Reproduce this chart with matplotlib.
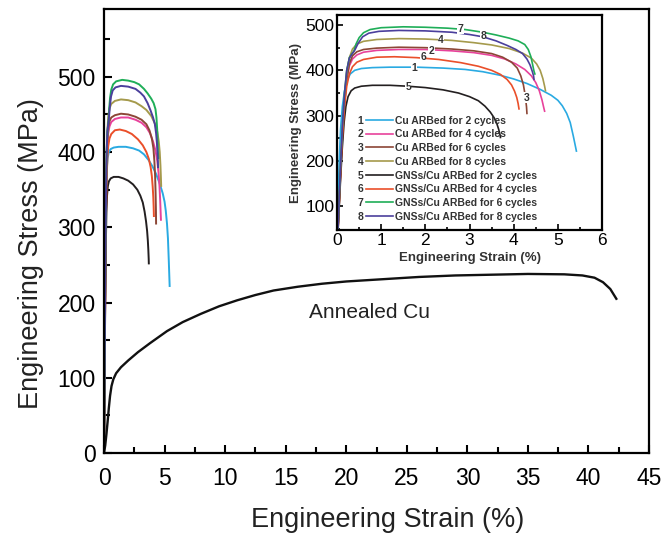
import matplotlib
matplotlib.use("Agg")
import matplotlib.pyplot as plt
from matplotlib.lines import Line2D
from matplotlib.ticker import MultipleLocator

plt.rcParams.update({
    "font.family": ["Liberation Sans", "DejaVu Sans"],
    "axes.linewidth": 1.6,
})

# ----- data: (strain %, stress MPa) -----
s1 = [0, 0.02, 0.05, 0.08, 0.12, 0.17, 0.23, 0.3, 0.4, 0.55, 0.8, 1.2, 1.8, 2.4, 2.9, 3.3, 3.7,
      4.0, 4.3, 4.6, 4.85, 5.0, 5.1, 5.2, 5.28, 5.35, 5.42]
y1 = [0, 100, 200, 270, 320, 355, 378, 392, 400, 404, 406, 407, 407, 405, 402, 397, 389,
      381, 371, 358, 345, 334, 322, 305, 285, 255, 222]
s2 = [0, 0.04, 0.08, 0.12, 0.17, 0.22, 0.28, 0.35, 0.45, 0.6, 0.9, 1.4, 2.0, 2.6, 3.1, 3.5, 3.8,
      4.05, 4.25, 4.4, 4.5, 4.58, 4.64, 4.68, 4.7]
y2 = [0, 90, 180, 260, 330, 380, 410, 425, 434, 440, 444, 446, 446, 443, 439, 433, 425,
      414, 402, 388, 373, 355, 335, 318, 310]
s3 = [0, 0.04, 0.08, 0.12, 0.17, 0.22, 0.28, 0.35, 0.45, 0.6, 0.9, 1.4, 2.0, 2.6, 3.1, 3.5, 3.75,
      3.95, 4.08, 4.16, 4.22, 4.26, 4.29, 4.3]
y3 = [0, 85, 170, 250, 325, 380, 415, 432, 441, 446, 449, 451, 450, 447, 443, 437, 429,
      418, 405, 388, 368, 345, 320, 305]
s4 = [0, 0.04, 0.08, 0.12, 0.17, 0.22, 0.28, 0.35, 0.45, 0.6, 0.9, 1.4, 2.0, 2.6, 3.1, 3.5, 3.9,
      4.2, 4.4, 4.52, 4.6, 4.66, 4.7, 4.72]
y4 = [0, 90, 180, 265, 340, 395, 428, 447, 458, 464, 468, 470, 469, 466, 461, 456, 448,
      438, 427, 414, 400, 382, 365, 355]
s5 = [0, 0.04, 0.08, 0.12, 0.16, 0.2, 0.25, 0.32, 0.4, 0.55, 0.8, 1.2, 1.6, 2.0, 2.4, 2.75, 3.0,
      3.2, 3.35, 3.47, 3.56, 3.62, 3.66, 3.69, 3.7]
y5 = [0, 80, 160, 230, 285, 320, 342, 355, 361, 365, 367, 367, 365, 362, 357, 350, 342,
      333, 321, 308, 295, 282, 270, 258, 252]
s6 = [0, 0.04, 0.08, 0.12, 0.17, 0.22, 0.28, 0.35, 0.45, 0.6, 0.9, 1.3, 1.8, 2.3, 2.8, 3.2, 3.5,
      3.7, 3.85, 3.95, 4.02, 4.07, 4.1, 4.12]
y6 = [0, 85, 170, 250, 320, 365, 392, 408, 418, 424, 429, 430, 428, 424, 417, 409, 400,
      391, 380, 368, 354, 340, 327, 315]
s7 = [0, 0.04, 0.08, 0.12, 0.17, 0.22, 0.28, 0.34, 0.38, 0.43, 0.5, 0.6, 0.75, 1.0, 1.5, 2.0, 2.5,
      2.9, 3.3, 3.6, 3.9, 4.1, 4.25, 4.33, 4.39, 4.43, 4.46, 4.48]
y7 = [0, 95, 190, 275, 350, 400, 428, 437, 442, 458, 472, 483, 490, 494, 496, 495, 493,
      490, 484, 478, 471, 465, 457, 446, 430, 412, 398, 392]
s8 = [0, 0.04, 0.08, 0.12, 0.17, 0.22, 0.28, 0.34, 0.4, 0.48, 0.58, 0.72, 0.95, 1.4, 2.0, 2.6, 3.0,
      3.3, 3.6, 3.85, 4.05, 4.2, 4.3, 4.37, 4.42, 4.45, 4.46]
y8 = [0, 95, 190, 275, 350, 400, 427, 436, 444, 460, 474, 482, 486, 488, 487, 484, 479,
      474, 465, 455, 446, 437, 425, 412, 398, 388, 380]

s_ann = [0, 0.1, 0.2, 0.3, 0.4, 0.5, 0.62, 0.77, 1.0, 1.4, 2.0, 2.8, 3.8, 5.2, 6.5, 8.0, 9.5, 11,
         12.5, 14, 16, 18, 20, 23, 26, 29, 32, 35, 38, 39.5, 40.5, 41.2, 41.8, 42.3]
y_ann = [0, 10, 25, 42, 60, 76, 89, 98, 106, 114, 123, 134, 146, 162, 174, 185, 195, 203,
         210, 216, 221, 225, 228, 231, 234, 236, 237, 238, 237.5, 236, 233, 227, 218, 205]

curves = [(s1, y1), (s2, y2), (s3, y3), (s4, y4), (s5, y5), (s6, y6), (s7, y7), (s8, y8)]
colors = ['#2aaae2', '#e8429b', '#8c4636', '#a59a4c', '#231f20', '#ea4f2a', '#1fae58', '#4b3f9c']
names = ['Cu ARBed for 2 cycles', 'Cu ARBed for 4 cycles', 'Cu ARBed for 6 cycles',
         'Cu ARBed for 8 cycles', 'GNSs/Cu ARBed for 2 cycles', 'GNSs/Cu ARBed for 4 cycles',
         'GNSs/Cu ARBed for 6 cycles', 'GNSs/Cu ARBed for 8 cycles']
tags = ['1', '2', '3', '4', '5', '6', '7', '8']
tag_pos = [(1.74, 405), (2.14, 443), (4.29, 340), (2.35, 466), (1.61, 364), (1.95, 429),
           (2.8, 492), (3.31, 476)]

fig = plt.figure(figsize=(6.65, 5.38), dpi=100)

# ----- main axes -----
ax = fig.add_axes([0.1564, 0.158, 0.8196, 0.825])
for (s, y), c in zip(curves, colors):
    ax.plot(s, y, color=c, lw=1.4)
ax.plot(s_ann, y_ann, color='#111111', lw=1.7)
ax.text(16.9, 187, 'Annealed Cu', fontsize=15, va='center', ha='left', color='#222222')

ax.set_xlim(0, 45)
ax.set_ylim(0, 590)
ax.xaxis.set_major_locator(MultipleLocator(5))
ax.xaxis.set_minor_locator(MultipleLocator(2.5))
ax.yaxis.set_major_locator(MultipleLocator(100))
ax.yaxis.set_minor_locator(MultipleLocator(50))
ax.tick_params(which='both', direction='in', width=1.5, labelsize=16.5)
ax.tick_params(axis='x', pad=10)
ax.tick_params(axis='y', pad=6)
ax.tick_params(which='major', length=6)
ax.tick_params(which='minor', length=4)
ax.set_xlabel('Engineering Strain (%)', fontsize=19.5, color='#222222')
ax.set_ylabel('Engineering Stress (MPa)', fontsize=19.5, color='#222222')
ax.xaxis.set_label_coords(0.52, -0.122)
ax.yaxis.set_label_coords(-0.11, 0.45)

# ----- inset -----
ins = fig.add_axes([0.5068, 0.5725, 0.3985, 0.3996])
for (s, y), c in zip(curves, colors):
    ins.plot(s, y, color=c, lw=1.2)
for t, (x, y) in zip(tags, tag_pos):
    ins.text(x, y, t, fontsize=7.5, fontweight='bold', ha='center', va='center', color='#333333',
             bbox=dict(facecolor='white', edgecolor='none', pad=0.2))
ins.set_xlim(0, 6)
ins.set_ylim(48, 522)
ins.xaxis.set_major_locator(MultipleLocator(1))
ins.xaxis.set_minor_locator(MultipleLocator(0.5))
ins.yaxis.set_major_locator(MultipleLocator(100))
ins.yaxis.set_minor_locator(MultipleLocator(50))
ins.tick_params(which='both', direction='in', width=1.2, labelsize=12.5, pad=2)
ins.tick_params(which='major', length=4)
ins.tick_params(which='minor', length=2.5)
ins.set_xlabel('Engineering Strain (%)', fontsize=9.5, fontweight='bold', labelpad=3, color='#333333')
ins.set_ylabel('Engineering Stress (MPa)', fontsize=9.5, fontweight='bold', labelpad=2, color='#333333')

# legend: numbers + line handles, then descriptions
handles = [Line2D([], [], color=c, lw=1.2) for c in colors]
leg_a = ins.legend(handles, tags, loc='upper right', bbox_to_anchor=(0.21, 0.532),
                   frameon=False, markerfirst=False, borderpad=0, borderaxespad=0,
                   handlelength=2.6, handletextpad=0.2, labelspacing=0.36,
                   prop={'weight': 'bold', 'size': 7.5})
for t in leg_a.get_texts():
    t.set_color('#333333')
ins.add_artist(leg_a)
blank = [Line2D([], [], linestyle='none') for _ in names]
leg_b = ins.legend(blank, names, loc='upper left', bbox_to_anchor=(0.22, 0.532),
                   frameon=False, borderpad=0, borderaxespad=0,
                   handlelength=0, handletextpad=0, labelspacing=0.36,
                   prop={'weight': 'bold', 'size': 7.5})
for t in leg_b.get_texts():
    t.set_color('#333333')

fig.savefig('out.png', dpi=100)
